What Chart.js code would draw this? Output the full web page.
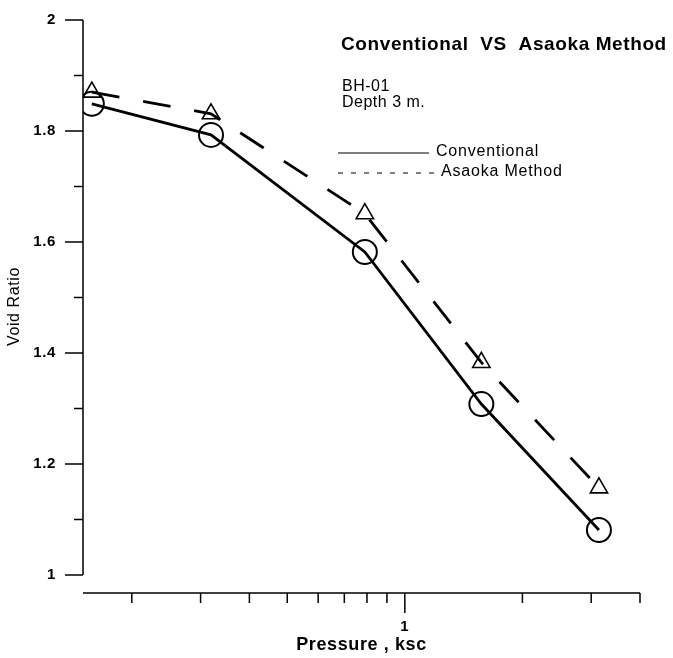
<!DOCTYPE html>
<html lang="en">
<head>
    <meta charset="UTF-8">
    <title>Conventional VS Asaoka Method</title>
    <style>
        html, body { margin: 0; padding: 0; background: #fff; }
        canvas { display: block; }
    </style>
    <script src="https://cdn.jsdelivr.net/npm/chart.js"></script>
</head>
<body>
    <canvas id="voidChart" width="673" height="658"></canvas>

    <script>
        // data (pressure in ksc, log axis)
        const pressure = [0.158, 0.319, 0.79, 1.57, 3.14];
        const conventional = [1.849, 1.793, 1.582, 1.308, 1.081];
        const asaoka = [1.870, 1.831, 1.651, 1.383, 1.157];

        const xTicks = [0.2, 0.3, 0.4, 0.5, 0.6, 0.7, 0.8, 0.9, 1, 2, 3, 4];
        const xLabels = ['', '', '', '', '', '', '', '', '1', '', '', ''];
        const yTicks = [1, 1.1, 1.2, 1.3, 1.4, 1.5, 1.6, 1.7, 1.8, 1.9, 2];
        const yLabels = ['1', '', '1.2', '', '1.4', '', '1.6', '', '1.8', '', '2'];

        const FONT = "'Liberation Sans', Arial, sans-serif";

        // axis lines + ticks (major ticks longer than minor ones)
        const axesPlugin = {
            id: 'axes',
            beforeDraw(chart) {
                // old plotter text is a bit wide, space the axis text out a little
                chart.ctx.letterSpacing = '0.6px';
            },
            beforeDatasetsDraw(chart) {
                chart.ctx.letterSpacing = '0px';
            },
            afterDraw(chart) {
                const { ctx, scales: { x, y } } = chart;
                ctx.save();
                ctx.strokeStyle = '#000';
                ctx.lineWidth = 1.5;
                ctx.beginPath();
                ctx.moveTo(x.left, y.getPixelForValue(yTicks[0]));
                ctx.lineTo(x.left, y.getPixelForValue(yTicks[yTicks.length - 1]));
                yTicks.forEach((v, i) => {
                    const py = y.getPixelForValue(v);
                    ctx.moveTo(x.left, py);
                    ctx.lineTo(x.left - (yLabels[i] ? 18 : 9), py);
                });
                ctx.moveTo(x.left, y.bottom);
                ctx.lineTo(x.right, y.bottom);
                xTicks.forEach((v, i) => {
                    const px = x.getPixelForValue(v);
                    ctx.moveTo(px, y.bottom);
                    ctx.lineTo(px, y.bottom + (xLabels[i] ? 20 : 10));
                });
                ctx.stroke();
                ctx.restore();
            }
        };

        // title, borehole note and legend in the upper right
        const notesPlugin = {
            id: 'notes',
            afterDraw(chart) {
                const ctx = chart.ctx;
                ctx.save();
                ctx.fillStyle = '#000';
                ctx.textBaseline = 'middle';
                ctx.letterSpacing = '0.6px';
                ctx.font = 'bold 19px ' + FONT;
                ctx.fillText('Conventional  VS  Asaoka Method', 341, 45);
                ctx.letterSpacing = '0.5px';
                ctx.font = '16px ' + FONT;
                ctx.fillText('BH-01', 342, 87);
                ctx.fillText('Depth 3 m.', 342, 103);

                ctx.letterSpacing = '0.8px';
                ctx.font = '16px ' + FONT;
                ctx.fillText('Conventional', 436, 152);
                ctx.fillText('Asaoka Method', 441, 172);

                ctx.strokeStyle = '#000';
                ctx.lineWidth = 1.2;
                ctx.beginPath();
                ctx.moveTo(338, 153);
                ctx.lineTo(429, 153);
                ctx.stroke();
                ctx.setLineDash([5, 8]);
                ctx.beginPath();
                ctx.moveTo(338, 173);
                ctx.lineTo(436, 173);
                ctx.stroke();
                ctx.restore();
            }
        };

        const ctx = document.getElementById('voidChart').getContext('2d');
        new Chart(ctx, {
            type: 'line',
            data: {
                datasets: [{
                    label: 'Conventional',
                    data: pressure.map((p, i) => ({ x: p, y: conventional[i] })),
                    borderColor: '#000',
                    borderWidth: 2.8,
                    pointStyle: 'circle',
                    pointRadius: 12,
                    pointBorderWidth: 2,
                    pointBorderColor: '#000',
                    pointBackgroundColor: 'rgba(0,0,0,0)',
                    tension: 0
                }, {
                    label: 'Asaoka Method',
                    data: pressure.map((p, i) => ({ x: p, y: asaoka[i] })),
                    borderColor: '#000',
                    borderWidth: 2.8,
                    borderDash: [28, 24],
                    pointStyle: 'triangle',
                    pointRadius: 10,
                    pointBorderWidth: 1.6,
                    pointBorderColor: '#000',
                    pointBackgroundColor: 'rgba(0,0,0,0)',
                    tension: 0
                }]
            },
            options: {
                responsive: false,
                animation: false,
                layout: { padding: { top: 20, right: 33, left: 0, bottom: 0 } },
                plugins: {
                    legend: { display: false },
                    tooltip: { enabled: false }
                },
                scales: {
                    x: {
                        type: 'logarithmic',
                        min: 0.15,
                        max: 4,
                        afterBuildTicks: s => { s.ticks = xTicks.map(v => ({ value: v })); },
                        afterFit: s => { s.height = 65; s.paddingLeft = 0; s.paddingRight = 0; },
                        grid: { display: false, drawTicks: false },
                        border: { display: false },
                        ticks: {
                            autoSkip: false,
                            maxRotation: 0,
                            padding: 25,
                            color: '#000',
                            font: { family: FONT, size: 15, weight: 'bold' },
                            callback: (v, i) => xLabels[i]
                        },
                        title: {
                            display: true,
                            text: 'Pressure , ksc',
                            color: '#000',
                            font: { family: FONT, size: 18, weight: 'bold' },
                            padding: { top: 0, bottom: 2 }
                        }
                    },
                    y: {
                        min: 0.9676,
                        max: 2,
                        afterBuildTicks: s => { s.ticks = yTicks.map(v => ({ value: v })); },
                        afterFit: s => { s.width = 83; s.paddingTop = 0; s.paddingBottom = 0; },
                        grid: { display: false, drawTicks: false },
                        border: { display: false },
                        ticks: {
                            autoSkip: false,
                            padding: 27,
                            color: '#000',
                            font: { family: FONT, size: 15, weight: 'bold' },
                            callback: (v, i) => yLabels[i]
                        },
                        title: {
                            display: true,
                            text: 'Void Ratio',
                            color: '#000',
                            font: { family: FONT, size: 16 },
                            padding: { top: 5, bottom: 0 }
                        }
                    }
                }
            },
            plugins: [axesPlugin, notesPlugin]
        });
    </script>
</body>
</html>
